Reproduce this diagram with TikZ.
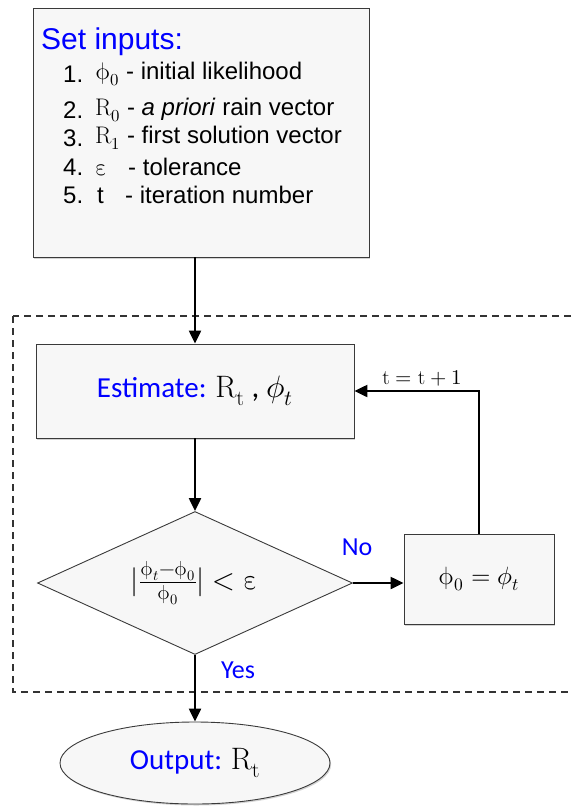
\documentclass[tikz,border=0pt]{standalone}
\usepackage{fontspec}
\usepackage{unicode-math}
\setmathfont{Latin Modern Math}
\newfontfamily\arialf{Liberation Sans}
\newfontfamily\calibf{Carlito}
\usetikzlibrary{shapes.geometric,arrows.meta,shadows}
\definecolor{boxfill}{HTML}{F7F7F7}
\definecolor{boxline}{HTML}{3A3A3A}
\definecolor{txtblue}{HTML}{0000FF}
\begin{document}
\begin{tikzpicture}[x=1pt,y=1pt,
  box/.style={draw=boxline,fill=boxfill,line width=0.9pt,inner sep=0pt},
  shbox/.style={box,drop shadow={shadow xshift=1.2pt,shadow yshift=-1.5pt,opacity=0.35}},
  arr/.style={-{Triangle[length=13pt,width=12pt]},line width=2.3pt,black},
  dashbox/.style={draw=black!80,line width=1.2pt,dash pattern=on 7pt off 5pt},
  listtxt/.style={anchor=west,inner sep=0pt,font=\arialf\fontsize{24}{27}\selectfont},
  bluelbl/.style={inner sep=0pt,text=txtblue,font=\calibf\fontsize{26}{30}\selectfont}
]
\useasboundingbox (0,0) rectangle (571,-806);
% dashed loop frame
\draw[dashbox] (13,-316) rectangle (600,-692);
% nodes
\node[shbox,minimum width=336pt,minimum height=249pt] (top) at (201,-132.5) {};
\node[anchor=west,inner sep=0pt,text=txtblue,font=\arialf\fontsize{30}{34}\selectfont] (title) at (41,-42) {Set inputs:};
\node[listtxt] (n1) at (63,-74) {1.};
\node[listtxt] (t1) at (95,-74) {$\upphi_0$ - initial likelihood};
\node[listtxt] (n2) at (63,-110) {2.};
\node[listtxt] (t2) at (95,-110) {$\mathrm{R}_0$ - \textit{a priori} rain vector};
\node[listtxt] (n3) at (63,-138) {3.};
\node[listtxt] (t3) at (95,-138) {$\mathrm{R}_1$ - first solution vector};
\node[listtxt] (n4) at (63,-167) {4.};
\node[listtxt] (t4) at (95,-167) {\makebox[33pt][l]{$\upvarepsilon$}- tolerance};
\node[listtxt] (n5) at (63,-195) {5.};
\node[listtxt] (t5) at (97,-195) {\makebox[28pt][l]{t}- iteration number};

\node[shbox,minimum width=318pt,minimum height=94pt,font=\calibf\fontsize{29}{33}\selectfont] (est) at (195,-391)
  {\textcolor{txtblue}{Estimate:} {\fontsize{31}{34}\selectfont$\mathrm{R}_{\mathrm{t}}$ , $\phi_t$}};

\node[box,shape=diamond,aspect=2.2,minimum width=315pt,minimum height=143pt,font=\fontsize{29}{33}\selectfont] (dia) at (195,-583)
  {$|\frac{\upphi_t-\upphi_0}{\upphi_0}| < \upvarepsilon$};

\node[shbox,minimum width=150pt,minimum height=90pt,font=\fontsize{25}{29}\selectfont] (phi) at (479,-579)
  {$\upphi_0 = \phi_t$};

\node[shbox,shape=ellipse,minimum width=270pt,minimum height=82pt,font=\calibf\fontsize{29}{33}\selectfont] (out) at (195,-763)
  {\textcolor{txtblue}{Output:} {\fontsize{31}{34}\selectfont$\mathrm{R}_{\mathrm{t}}$}};

\node[bluelbl] (no) at (357,-547) {No};
\node[bluelbl] (yes) at (238,-670) {Yes};
\node[inner sep=0pt,font=\fontsize{21}{24}\selectfont] (inc) at (422,-378) {$\mathrm{t} = \mathrm{t} + 1$};

% connectors
\draw[arr] (top.south -| dia.north) -- (est.north -| dia.north);
\draw[arr] (est.south -| dia.north) -- (dia.north);
\draw[arr] (dia.east) -- (dia.east -| phi.west);
\draw[arr] (phi.north) |- (est.east);
\draw[arr] (dia.south) -- (out.north);
\end{tikzpicture}
\end{document}
